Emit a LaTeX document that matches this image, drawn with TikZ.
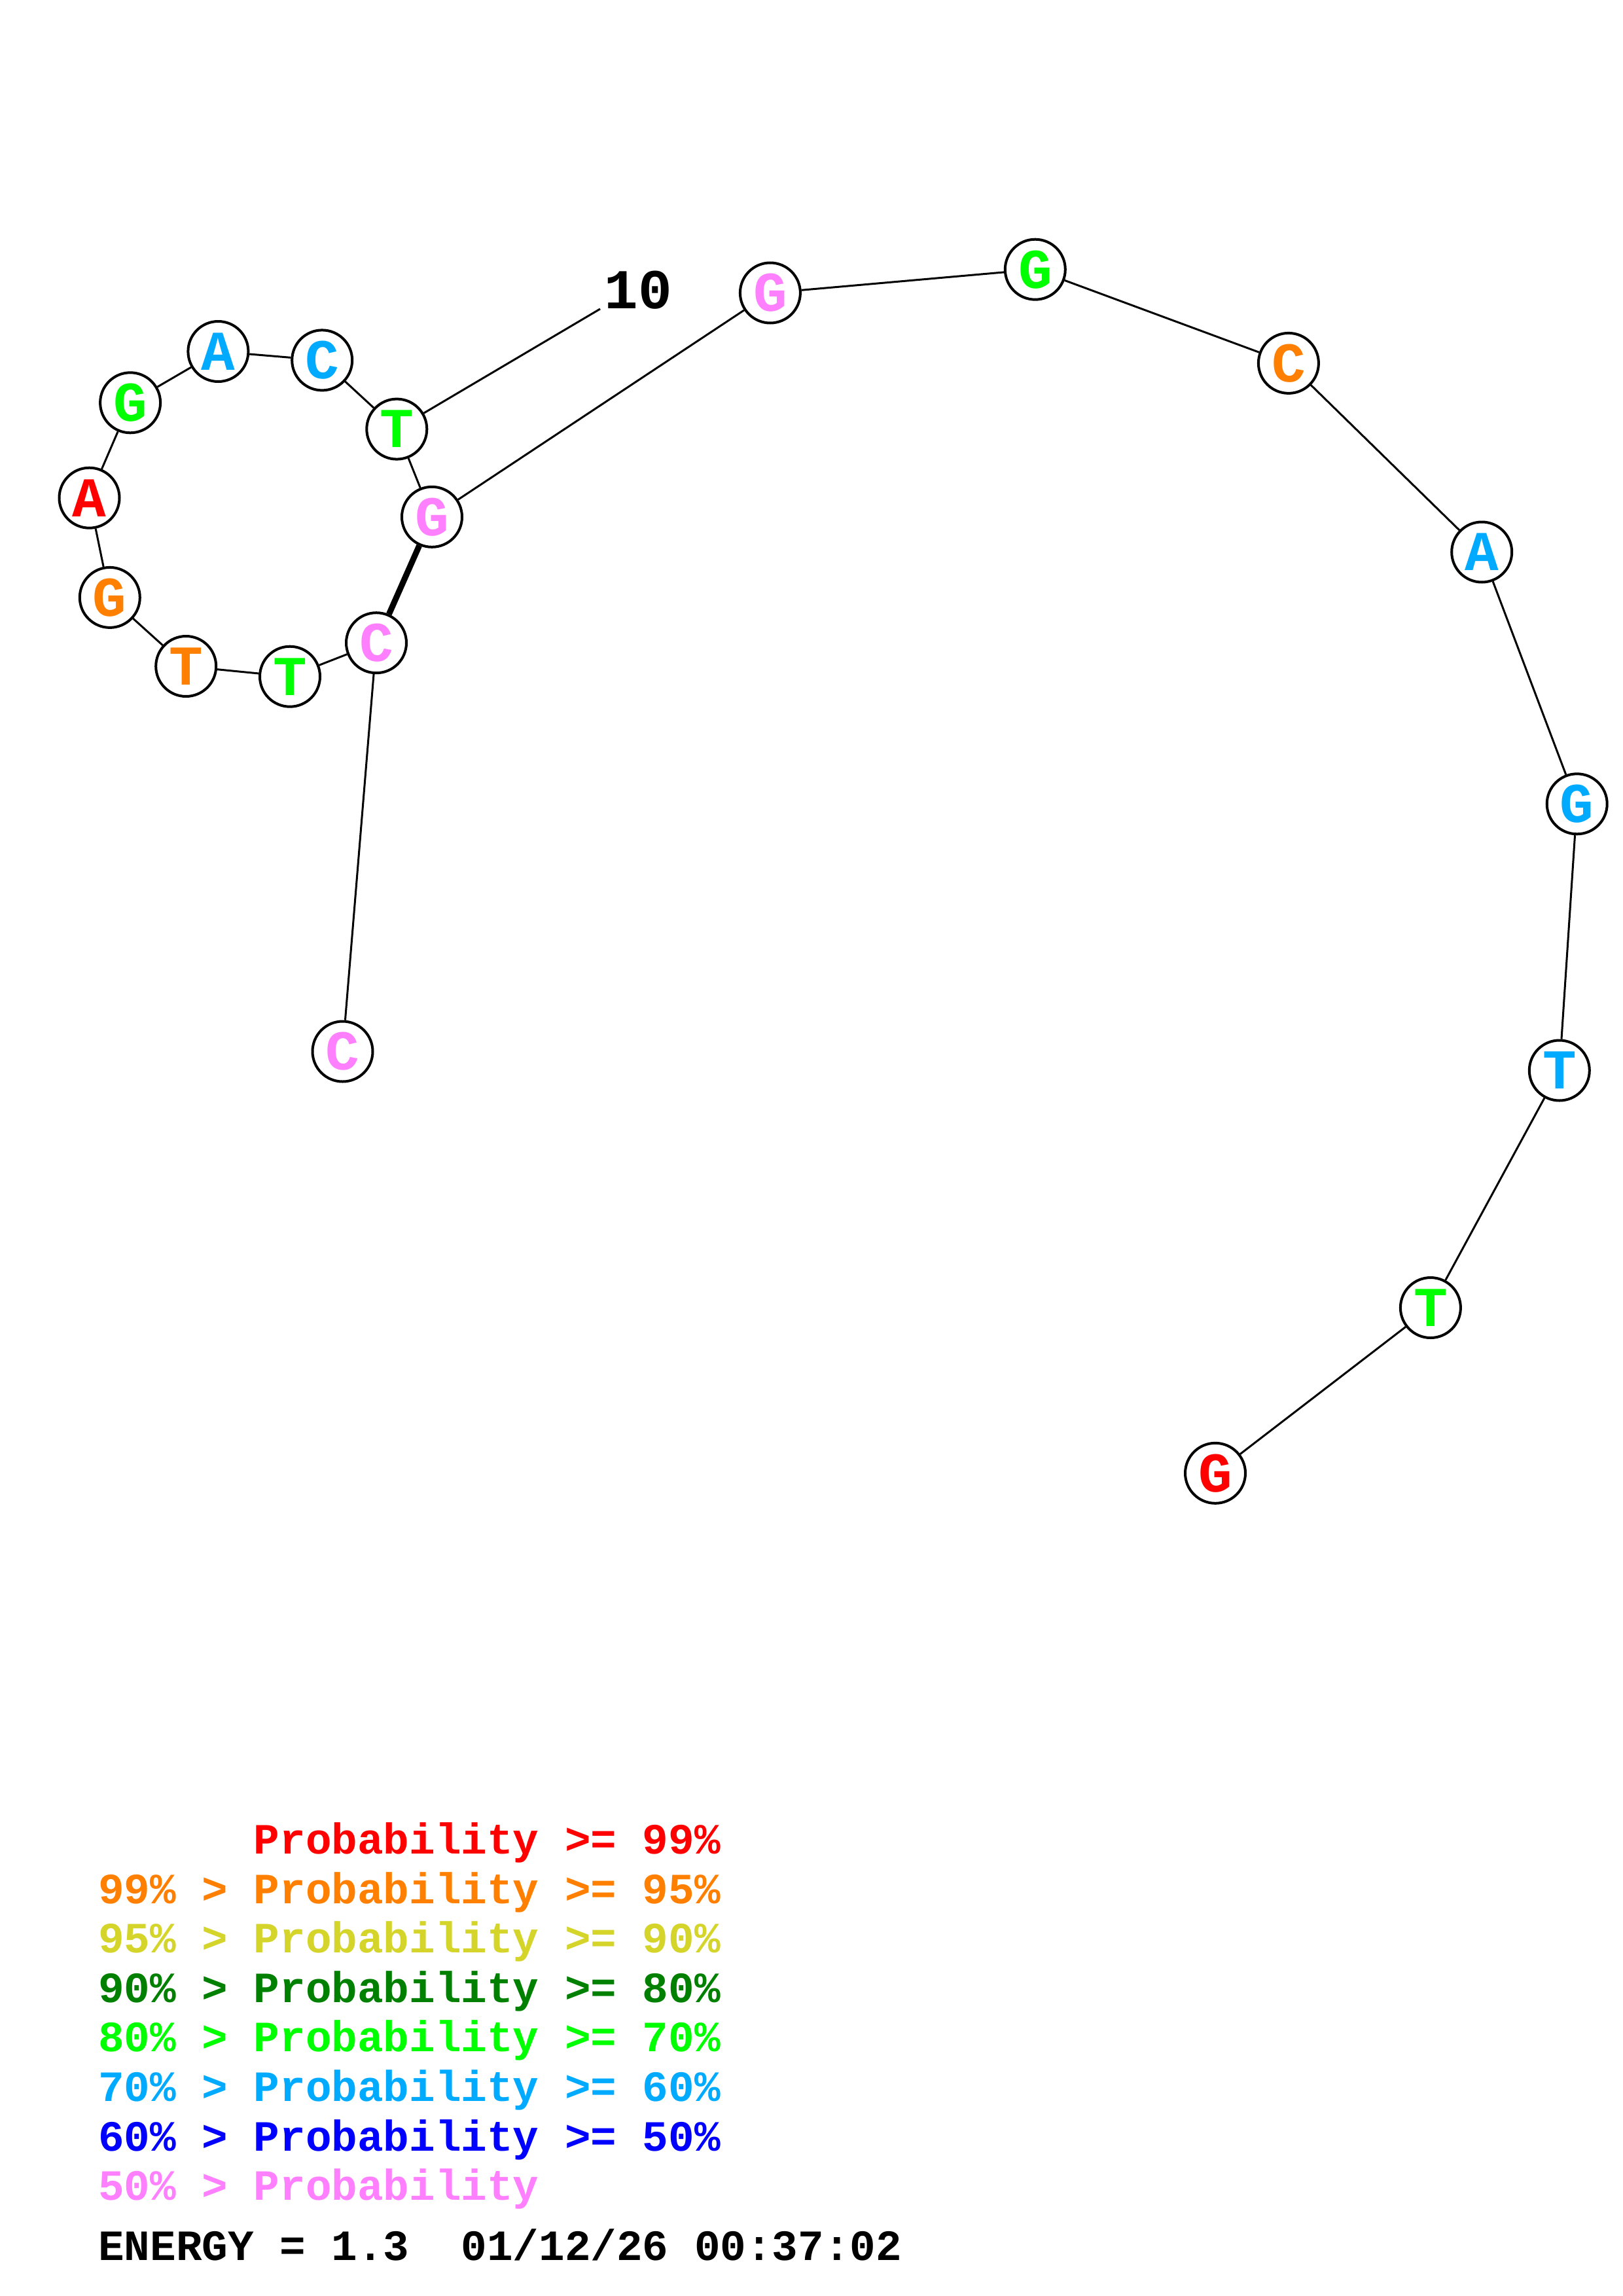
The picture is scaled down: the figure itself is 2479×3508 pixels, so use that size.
\documentclass[tikz,border=0pt]{standalone}
\usepackage{fontspec}
\setmainfont{Liberation Mono}
\definecolor{cRed}{HTML}{FF0000}
\definecolor{cOrange}{HTML}{FF8000}
\definecolor{cYellow}{HTML}{D4D42A}
\definecolor{cDGreen}{HTML}{008000}
\definecolor{cGreen}{HTML}{00FF00}
\definecolor{cSky}{HTML}{00AAFF}
\definecolor{cBlue}{HTML}{0000FF}
\definecolor{cPink}{HTML}{FF80FF}
\tikzset{
  base/.style={circle,draw=black,line width=4pt,fill=white,minimum size=92pt,inner sep=0pt,
    font=\fontsize{86}{86}\selectfont\bfseries,text=#1},
  bb/.style={line width=3pt},
  pair/.style={line width=9pt},
  legend/.style={anchor=base west,inner sep=0pt,font=\fontsize{66}{66}\selectfont\bfseries,text=#1},
  numlabel/.style={inner sep=0pt,font=\fontsize{86}{86}\selectfont\bfseries}
}
\begin{document}
\begin{tikzpicture}[x=1pt,y=-1pt]
\path[use as bounding box,fill=white] (0,0) rectangle (2479,3508);
\node[base=cPink]   (n1)  at (523.5,1606.5) {C};
\node[base=cPink]   (n2)  at (575,982.2)    {C};
\node[base=cGreen]  (n3)  at (443,1033.7)   {T};
\node[base=cOrange] (n4)  at (284.2,1018)   {T};
\node[base=cOrange] (n5)  at (167.8,912.9)  {G};
\node[base=cRed]    (n6)  at (136.5,760.7)  {A};
\node[base=cGreen]  (n7)  at (199.1,615.3)  {G};
\node[base=cSky]    (n8)  at (333.4,537)    {A};
\node[base=cSky]    (n9)  at (492.2,550.4)  {C};
\node[base=cGreen]  (n10) at (606.3,655.6)  {T};
\node[base=cPink]   (n11) at (660,789.8)    {G};
\node[base=cPink]   (n12) at (1176.9,447.5) {G};
\node[base=cGreen]  (n13) at (1581.8,411.7) {G};
\node[base=cOrange] (n14) at (1968.9,554.9) {C};
\node[base=cSky]    (n15) at (2264.2,843.5) {A};
\node[base=cSky]    (n16) at (2409.7,1228.3){G};
\node[base=cSky]    (n17) at (2382.8,1635.5){T};
\node[base=cGreen]  (n18) at (2185.9,1998)  {T};
\node[base=cRed]    (n19) at (1857,2250.8)  {G};
\foreach \a/\b in {n1/n2,n2/n3,n3/n4,n4/n5,n5/n6,n6/n7,n7/n8,n8/n9,n9/n10,n10/n11,n11/n12,n12/n13,n13/n14,n14/n15,n15/n16,n16/n17,n17/n18,n18/n19}
  \draw[bb] (\a) -- (\b);
\draw[pair] (n2) -- (n11);
\coordinate (l10) at (917,472);
\draw[bb] (n10) -- (l10);
\node[numlabel] (lab10) at (975.5,443) {10};
% legend
\node[legend=cRed]    (g1) at (150,2832) {\phantom{99\% > }Probability >= 99\%};
\node[legend=cOrange] (g2) at (150,2908) {99\% > Probability >= 95\%};
\node[legend=cYellow] (g3) at (150,2983) {95\% > Probability >= 90\%};
\node[legend=cDGreen] (g4) at (150,3059) {90\% > Probability >= 80\%};
\node[legend=cGreen]  (g5) at (150,3134) {80\% > Probability >= 70\%};
\node[legend=cSky]    (g6) at (150,3210) {70\% > Probability >= 60\%};
\node[legend=cBlue]   (g7) at (150,3286) {60\% > Probability >= 50\%};
\node[legend=cPink]   (g8) at (150,3361) {50\% > Probability};
\node[legend=black]   (en) at (150,3453) {ENERGY = 1.3\ \ 01/12/26 00:37:02};
\end{tikzpicture}
\end{document}
